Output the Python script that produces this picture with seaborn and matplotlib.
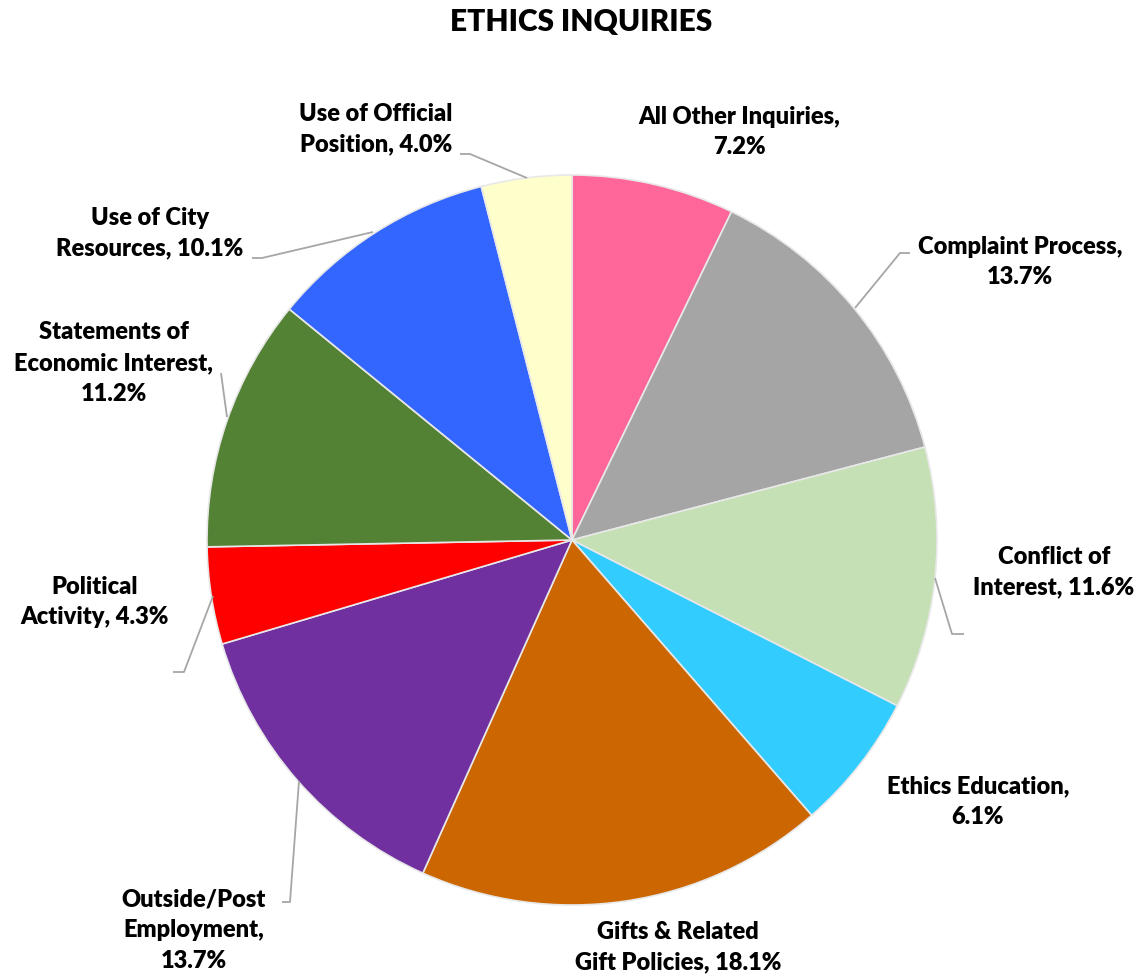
import matplotlib
matplotlib.use("Agg")
import matplotlib.pyplot as plt
import seaborn as sns

categories = ["All Other Inquiries", "Complaint Process", "Conflict of Interest",
              "Ethics Education", "Gifts & Related Gift Policies", "Outside/Post Employment",
              "Political Activity", "Statements of Economic Interest",
              "Use of City Resources", "Use of Official Position"]
values = [7.2, 13.7, 11.6, 6.1, 18.1, 13.7, 4.3, 11.2, 10.1, 4.0]
label_texts = ["All Other Inquiries,\n7.2%", "Complaint Process,\n13.7%",
               "Conflict of\nInterest, 11.6%", "Ethics Education,\n6.1%",
               "Gifts & Related\nGift Policies, 18.1%", "Outside/Post\nEmployment,\n13.7%",
               "Political\nActivity, 4.3%", "Statements of\nEconomic Interest,\n11.2%",
               "Use of City\nResources, 10.1%", "Use of Official\nPosition, 4.0%"]
colors = ["#FF6699", "#A5A5A5", "#C5E0B4", "#33CCFF", "#CC6600",
          "#7030A0", "#FF0000", "#548235", "#3366FF", "#FFFFCC"]

sns.set_theme(style="white")
plt.rcParams['font.family'] = ['Lato', 'DejaVu Sans']

W, H = 1142, 977
fig = plt.figure(figsize=(W / 100, H / 100), dpi=100)
ax = fig.add_axes([0, 0, 1, 1])

cx, cy, r = 572, H - 540, 365
ax.pie(values, colors=colors, startangle=90, counterclock=False,
       center=(cx, cy), radius=r, frame=True,
       wedgeprops=dict(edgecolor="#E8E8E8", linewidth=1.2))
ax.set_xlim(0, W)
ax.set_ylim(0, H)
ax.set_aspect("equal")
ax.axis("off")

# label positions (pixel coords, y from top) and leader lines
label_pos = [(739, 132), (1020, 262), (1054, 572), (978, 802), (678, 947),
             (194, 930), (95, 602), (114, 363), (150, 233), (376, 129)]
leaders = {
    1: [(910, 253), (900, 253), (855, 308)],
    2: [(964, 634), (952, 634), (935, 578)],
    5: [(282, 902), (290, 902), (299, 781)],
    6: [(173, 672), (184, 672), (213, 596)],
    7: [(221, 373), (227, 417)],
    8: [(252, 258), (262, 258), (373, 232)],
    9: [(460, 154), (470, 154), (527, 178)],
}
for i, (x, y) in enumerate(label_pos):
    ax.text(x, H - y, label_texts[i], ha="center", va="center", fontsize=17,
            fontweight="heavy", color="black", linespacing=1.48)
for i, pts in leaders.items():
    ax.plot([p[0] for p in pts], [H - p[1] for p in pts], color="#A6A6A6", lw=1.3,
            solid_capstyle="butt")

fig.text(581 / W, 1 - 22 / H, "ETHICS INQUIRIES", ha="center", va="center",
         fontsize=21.5, fontweight="heavy", color="black")

fig.savefig("out.png", dpi=100, facecolor="white")
